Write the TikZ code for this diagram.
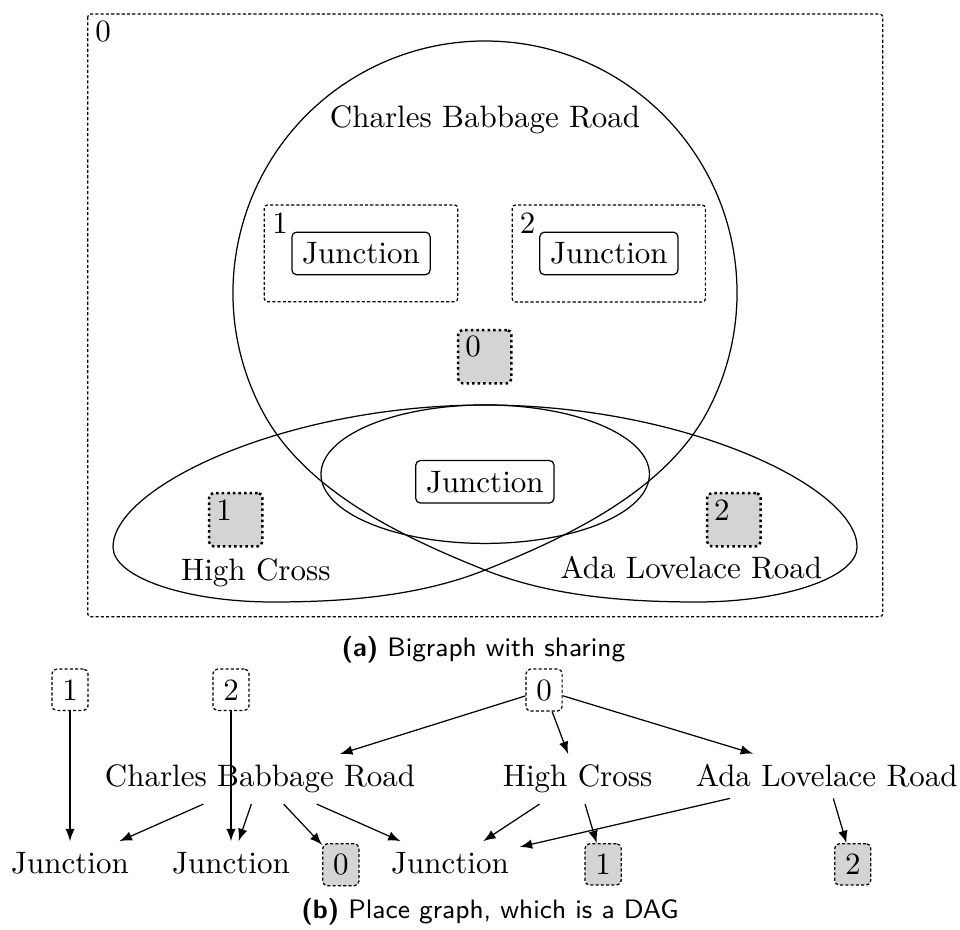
\documentclass[tikz,border=0pt]{standalone}
\usepackage{fontspec}
\begin{document}
\begin{tikzpicture}[line width=0.4pt, >=latex,
  region/.style={dash pattern=on 1pt off 0.7pt, rounded corners=1pt},
  ctrl/.style={draw, rounded corners=1.5pt},
  site/.style={draw, thick, densely dotted, fill=black!17, rounded corners=1.5pt, minimum size=17.2pt, inner sep=0pt},
  root/.style={draw, dash pattern=on 1pt off 0.7pt, rounded corners=1.5pt, anchor=base},
  gsite/.style={root, fill=black!17},
  lbl/.style={anchor=base, inner sep=0pt},
  subcap/.style={anchor=base, inner sep=0pt, font=\fontsize{8.6}{10}\selectfont\sffamily}]
  \useasboundingbox (0,0) rectangle (10.884,-10.533);
  % (a) bigraph with sharing
  \draw[region] (0.994,-0.159) rectangle (10.008,-6.992);
  \node[lbl] (l0) at (1.168,-0.471) {0};
  % road outlines: one closed curve, crossing itself below the junction
  \draw (5.499,-0.465) arc[start angle=90, end angle=-28, radius=2.857]
    .. controls (7.543,-5.565) and (6.446,-6.084) .. (5.499,-6.463)
    .. controls (4.752,-6.761) and (3.900,-6.825) .. (3.095,-6.825)
    .. controls (2.098,-6.825) and (1.281,-6.542) .. (1.281,-6.202)
    .. controls (1.281,-5.522) and (3.231,-4.592) .. (5.499,-4.592)
    .. controls (7.766,-4.592) and (9.717,-5.522) .. (9.717,-6.202)
    .. controls (9.717,-6.542) and (8.900,-6.825) .. (7.902,-6.825)
    .. controls (7.098,-6.825) and (6.246,-6.761) .. (5.499,-6.463)
    .. controls (4.552,-6.084) and (3.455,-5.565) .. (2.976,-4.663)
    arc[start angle=208, end angle=90, radius=2.857];
  \draw (5.501,-5.376) ellipse[x radius=1.862, y radius=0.785];
  \node[lbl] (cbrA) at (5.499,-1.448) {Charles Babbage Road};
  \draw[region] (2.997,-2.324) rectangle (5.189,-3.421);
  \draw[region] (5.808,-2.324) rectangle (7.997,-3.424);
  \node[lbl] (l1) at (3.175,-2.645) {1};
  \node[lbl] (l2) at (5.981,-2.645) {2};
  \node[ctrl] (jA) at (4.093,-2.873) {Junction};
  \node[ctrl] (jB) at (6.903,-2.873) {Junction};
  \node[site] (s0) at (5.496,-4.044) {};
  \node[lbl] (ls0) at (5.363,-4.044) {0};
  \node[ctrl] (jC) at (5.497,-5.462) {Junction};
  \node[site] (s1) at (2.672,-5.892) {};
  \node[lbl] (ls1) at (2.540,-5.896) {1};
  \node[site] (s2) at (8.320,-5.892) {};
  \node[lbl] (ls2) at (8.183,-5.896) {2};
  \node[lbl] (hcA) at (2.900,-6.587) {High Cross};
  \node[lbl] (alrA) at (7.838,-6.557) {Ada Lovelace Road};
  \node[subcap] (capA) at (5.480,-7.438) {\textbf{(a)} Bigraph with sharing};
  % (b) place graph
  \node[root] (r1) at (0.794,-7.937) {1};
  \node[root] (r2) at (2.619,-7.937) {2};
  \node[root] (r0) at (6.168,-7.937) {0};
  \node[lbl, inner sep=3.333pt] (cbr) at (2.948,-8.920) {Charles Babbage Road};
  \node[lbl, inner sep=3.333pt] (hc) at (6.548,-8.920) {High Cross};
  \node[lbl, inner sep=3.333pt] (alr) at (9.373,-8.920) {Ada Lovelace Road};
  \node[lbl, inner sep=3.333pt] (j1) at (0.794,-9.901) {Junction};
  \node[lbl, inner sep=3.333pt] (j2) at (2.619,-9.901) {Junction};
  \node[lbl, inner sep=3.333pt] (j3) at (5.102,-9.901) {Junction};
  \node[gsite] (g0) at (3.864,-9.917) {0};
  \node[gsite] (g1) at (6.837,-9.917) {1};
  \node[gsite] (g2) at (9.668,-9.917) {2};
  \draw[->] (r1) -- (j1);
  \draw[->] (r2) -- (j2);
  \draw[->] (r0) -- (cbr);
  \draw[->] (r0) -- (hc);
  \draw[->] (r0) -- (alr);
  \draw[->] (cbr) -- (j1);
  \draw[->] (cbr) -- (j2);
  \draw[->] (cbr) -- (g0);
  \draw[->] (cbr) -- (j3);
  \draw[->] (hc) -- (j3);
  \draw[->] (hc) -- (g1);
  \draw[->] (alr) -- (j3);
  \draw[->] (alr) -- (g2);
  \node[subcap] (capB) at (5.556,-10.408) {\textbf{(b)} Place graph, which is a DAG};
\end{tikzpicture}
\end{document}
